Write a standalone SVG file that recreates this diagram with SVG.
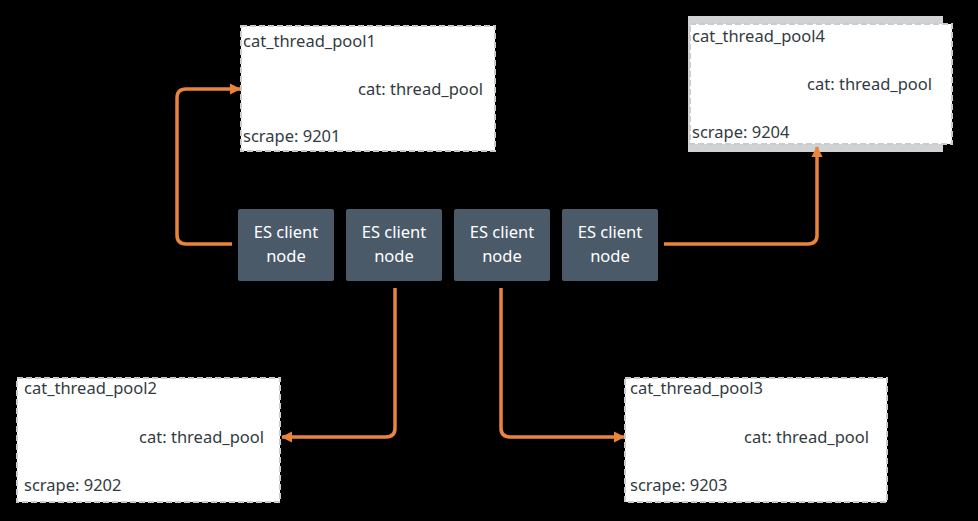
<svg xmlns="http://www.w3.org/2000/svg" width="978" height="521" viewBox="0 0 978 521">
<style>
.bg{fill:#000}
.pool{fill:#fff;stroke:#c9cbcd;stroke-width:2;stroke-dasharray:6 3}
.t{font-family:"Noto Sans","Open Sans",sans-serif;font-size:16.5px;fill:#333b42}
.node rect{fill:#4b5a68}
.nt{font-family:"Noto Sans","Open Sans",sans-serif;font-size:16.5px;fill:#fff;text-anchor:middle}
.c{fill:none;stroke:#e8853a;stroke-width:3.5;stroke-linejoin:round}
</style>
<defs>
<marker id="ah" viewBox="0 0 10 10" refX="9" refY="5" markerWidth="3.2" markerHeight="3.2" orient="auto" markerUnits="strokeWidth">
<path d="M0,0 L10,5 L0,10 Z" fill="#e8853a"/>
</marker>
</defs>
<rect class="bg" width="978" height="521"/>
<g id="pool1">
<rect class="pool" x="241" y="26" width="254" height="125"/>
<text class="t" x="243" y="47">cat_thread_pool1</text>
<text class="t" x="483" y="95" text-anchor="end">cat: thread_pool</text>
<text class="t" x="243" y="142">scrape: 9201</text>
</g>
<g id="pool4">
<rect x="688" y="16" width="255" height="136" fill="#d0d2d4"/>
<rect class="pool" x="690" y="24" width="262" height="120"/>
<text class="t" x="692" y="42">cat_thread_pool4</text>
<text class="t" x="932" y="90" text-anchor="end">cat: thread_pool</text>
<text class="t" x="692" y="138">scrape: 9204</text>
</g>
<g id="pool2">
<rect class="pool" x="17" y="378" width="263" height="124"/>
<text class="t" x="24" y="394">cat_thread_pool2</text>
<text class="t" x="264" y="443" text-anchor="end">cat: thread_pool</text>
<text class="t" x="24" y="491">scrape: 9202</text>
</g>
<g id="pool3">
<rect class="pool" x="625" y="378" width="262" height="124"/>
<text class="t" x="630" y="394">cat_thread_pool3</text>
<text class="t" x="869" y="443" text-anchor="end">cat: thread_pool</text>
<text class="t" x="630" y="491">scrape: 9203</text>
</g>
<g id="node1" class="node">
<rect x="238" y="209" width="96" height="72" rx="2"/>
<text class="nt" x="286" y="238">ES client</text>
<text class="nt" x="286" y="262">node</text>
</g>
<g id="node2" class="node">
<rect x="346" y="209" width="96" height="72" rx="2"/>
<text class="nt" x="394" y="238">ES client</text>
<text class="nt" x="394" y="262">node</text>
</g>
<g id="node3" class="node">
<rect x="454" y="209" width="96" height="72" rx="2"/>
<text class="nt" x="502" y="238">ES client</text>
<text class="nt" x="502" y="262">node</text>
</g>
<g id="node4" class="node">
<rect x="562" y="209" width="96" height="72" rx="2"/>
<text class="nt" x="610" y="238">ES client</text>
<text class="nt" x="610" y="262">node</text>
</g>
<g id="connectors">
<path class="c" d="M232,244 H186 Q177,244 177,235 V98 Q177,89 186,89 H240" marker-end="url(#ah)"/>
<path class="c" d="M395,288 V428 Q395,437 386,437 H282" marker-end="url(#ah)"/>
<path class="c" d="M501,288 V428 Q501,437 510,437 H624" marker-end="url(#ah)"/>
<path class="c" d="M664,244 H808 Q817,244 817,235 V147" marker-end="url(#ah)"/>
</g>
</svg>
